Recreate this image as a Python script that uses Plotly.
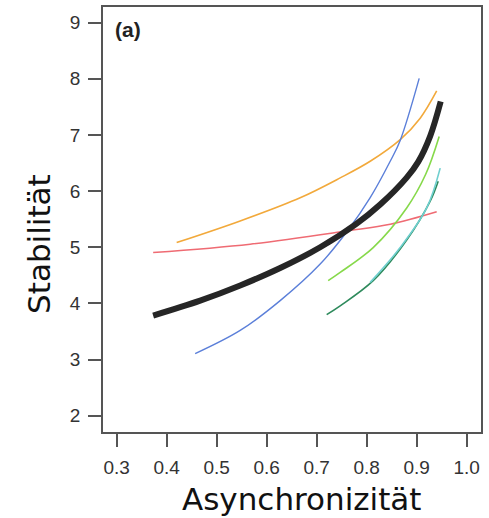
import plotly.graph_objects as go

# Data (Asynchronizität vs Stabilität)
black_x = [0.373, 0.467, 0.547, 0.627, 0.707, 0.780, 0.827, 0.880, 0.903, 0.927, 0.948]
black_y = [3.785, 4.050, 4.320, 4.630, 5.000, 5.420, 5.760, 6.240, 6.520, 6.980, 7.595]

orange_x = [0.420, 0.547, 0.667, 0.747, 0.807, 0.867, 0.907, 0.940]
orange_y = [5.083, 5.468, 5.881, 6.235, 6.531, 6.916, 7.299, 7.784]

red_x = [0.373, 0.567, 0.760, 0.847, 0.940]
red_y = [4.906, 5.055, 5.291, 5.410, 5.633]

blue_x = [0.457, 0.547, 0.627, 0.707, 0.761, 0.807, 0.847, 0.867, 0.905]
blue_y = [3.106, 3.519, 4.050, 4.701, 5.285, 5.883, 6.531, 6.903, 8.007]

lgreen_x = [0.723, 0.747, 0.813, 0.880, 0.918, 0.945]
lgreen_y = [4.405, 4.552, 4.995, 5.700, 6.300, 6.974]

dgreen_x = [0.720, 0.747, 0.813, 0.880, 0.927, 0.943]
dgreen_y = [3.802, 3.958, 4.405, 5.130, 5.822, 6.177]

cyan_x = [0.807, 0.867, 0.920, 0.947]
cyan_y = [4.375, 4.995, 5.700, 6.410]

x_ticks = [0.3, 0.4, 0.5, 0.6, 0.7, 0.8, 0.9, 1.0]
x_tick_labels = ["0.3", "0.4", "0.5", "0.6", "0.7", "0.8", "0.9", "1.0"]
y_ticks = [2, 3, 4, 5, 6, 7, 8, 9]

series = [
    (red_x, red_y, "#ef6b73", 1.6),
    (orange_x, orange_y, "#f2a93b", 1.6),
    (blue_x, blue_y, "#5b7fd9", 1.4),
    (lgreen_x, lgreen_y, "#86d94a", 1.6),
    (dgreen_x, dgreen_y, "#2e8a5c", 1.6),
    (cyan_x, cyan_y, "#6fcfcf", 1.6),
    (black_x, black_y, "#262626", 6),
]

fig = go.Figure()
for xs, ys, col, w in series:
    fig.add_trace(go.Scatter(x=xs, y=ys, mode="lines",
                             line=dict(color=col, width=w, shape="spline", smoothing=1.0),
                             showlegend=False, hoverinfo="skip"))

axis_common = dict(showgrid=False, zeroline=False, showline=True, mirror=True,
                   linecolor="#555555", linewidth=1.5, ticks="outside", ticklen=13,
                   tickwidth=1.5, tickcolor="#555555",
                   tickfont=dict(family="Liberation Sans, Arial", size=19, color="#333333"))

W, H = 489, 518
l, r, t, b = 103, 8, 5, 86
pw, ph = W - l - r, H - t - b

fig.update_layout(
    width=W, height=H,
    margin=dict(l=l, r=r, t=t, b=b),
    plot_bgcolor="white", paper_bgcolor="white",
    xaxis=dict(range=[0.2727, 1.0286], tickvals=x_ticks, ticktext=x_tick_labels,
               ticklabelstandoff=4, **axis_common),
    yaxis=dict(range=[1.711, 9.278], tickvals=y_ticks, ticklabelstandoff=4, **axis_common),
    annotations=[
        dict(text="Asynchronizität", x=(302 - l) / pw, y=(H - b - 499) / ph,
             xref="paper", yref="paper", xanchor="center", yanchor="middle", showarrow=False,
             font=dict(family="DejaVu Sans", size=31, color="#111111")),
        dict(text="Stabilität", x=(39 - l) / pw, y=(H - b - 243) / ph,
             xref="paper", yref="paper", xanchor="center", yanchor="middle",
             showarrow=False, textangle=-90,
             font=dict(family="DejaVu Sans", size=31, color="#111111")),
        dict(text="<b>(a)</b>", x=0.2926, y=8.87, xref="x", yref="y",
             xanchor="left", yanchor="middle",
             showarrow=False, font=dict(family="Liberation Sans, Arial", size=21, color="#222222")),
    ],
)

fig.write_html("out.html", config={"displayModeBar": False},
               post_script="document.body.style.margin='0';document.body.style.padding='0';")
